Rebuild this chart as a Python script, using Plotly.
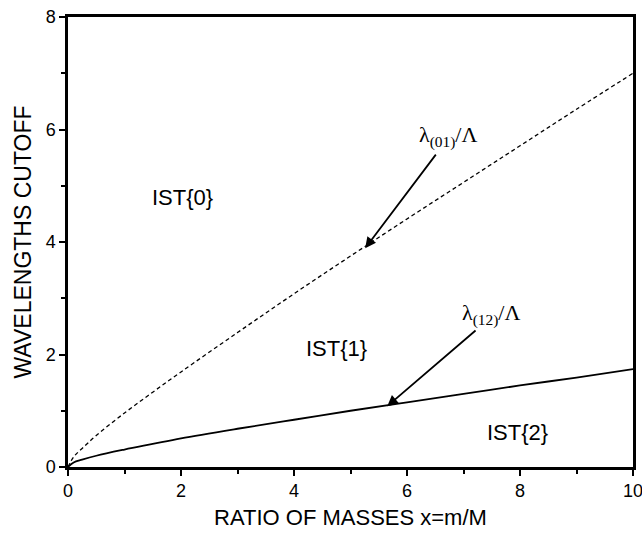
import plotly.graph_objects as go

x_vals = [0, 0.1, 0.25, 0.5, 1, 1.5, 2, 3, 4, 5, 6, 7, 8, 9, 10]
lambda01 = [0, 0.18, 0.33, 0.56, 0.96, 1.33, 1.69, 2.39, 3.08, 3.75, 4.41, 5.06, 5.71, 6.36, 7.00]
lambda12 = [0, 0.08, 0.13, 0.20, 0.31, 0.41, 0.51, 0.68, 0.84, 1.00, 1.15, 1.30, 1.45, 1.59, 1.74]

region_labels = ["IST{0}", "IST{1}", "IST{2}"]
region_x = [2.03, 4.76, 7.96]
region_y = [4.8, 2.11, 0.62]

SANS = "Liberation Sans, Arial"
SERIF = "Liberation Serif, Times New Roman"

fig = go.Figure()
fig.add_trace(go.Scatter(x=x_vals, y=lambda01, mode="lines", line=dict(color="black", width=1.3, dash="4px,3px"), line_shape="spline", showlegend=False))
fig.add_trace(go.Scatter(x=x_vals, y=lambda12, mode="lines", line=dict(color="black", width=1.8), line_shape="spline", showlegend=False))

for t, xx, yy in zip(region_labels, region_x, region_y):
    fig.add_annotation(x=xx, y=yy, text=t, showarrow=False, font=dict(family=SANS, size=22, color="black"))

# arrows
fig.add_annotation(x=5.26, y=3.89, ax=6.53, ay=5.58, xref="x", yref="y", axref="x", ayref="y", text="", showarrow=True, arrowhead=2, arrowsize=1.2, arrowwidth=1.8, arrowcolor="black")
fig.add_annotation(x=5.65, y=1.08, ax=7.24, ay=2.45, xref="x", yref="y", axref="x", ayref="y", text="", showarrow=True, arrowhead=2, arrowsize=1.2, arrowwidth=1.8, arrowcolor="black")
fig.add_annotation(x=6.72, y=5.88, text="λ<sub>(01)</sub>/Λ", showarrow=False, font=dict(family=SERIF, size=22, color="black"))
fig.add_annotation(x=7.49, y=2.72, text="λ<sub>(12)</sub>/Λ", showarrow=False, font=dict(family=SERIF, size=22, color="black"))

axis_common = dict(showgrid=False, zeroline=False, showline=True, linecolor="black", linewidth=2.5,
                   ticks="outside", ticklen=6, tickwidth=2, tickcolor="black", automargin=False,
                   ticklabeloverflow="allow",
                   tickfont=dict(family=SANS, size=18, color="black"),
                   minor=dict(ticks="outside", ticklen=4, tickwidth=1.5, tickcolor="black", dtick=1), mirror=True)

fig.update_xaxes(range=[0, 10], dtick=2, **axis_common,
                 title=dict(text="RATIO OF MASSES x=m/M", font=dict(family=SANS, size=22, color="black"), standoff=10))
fig.update_yaxes(range=[0, 8], dtick=2, **axis_common,
                 title=dict(text="WAVELENGTHS CUTOFF", font=dict(family=SANS, size=23, color="black"), standoff=8))

fig.update_layout(width=642, height=533, margin=dict(l=68, r=9, t=17, b=66),
                  plot_bgcolor="white", paper_bgcolor="white")
fig.write_html("out.html", config={"displayModeBar": False},
               post_script="document.body.style.margin='0';document.body.style.overflow='hidden';")
